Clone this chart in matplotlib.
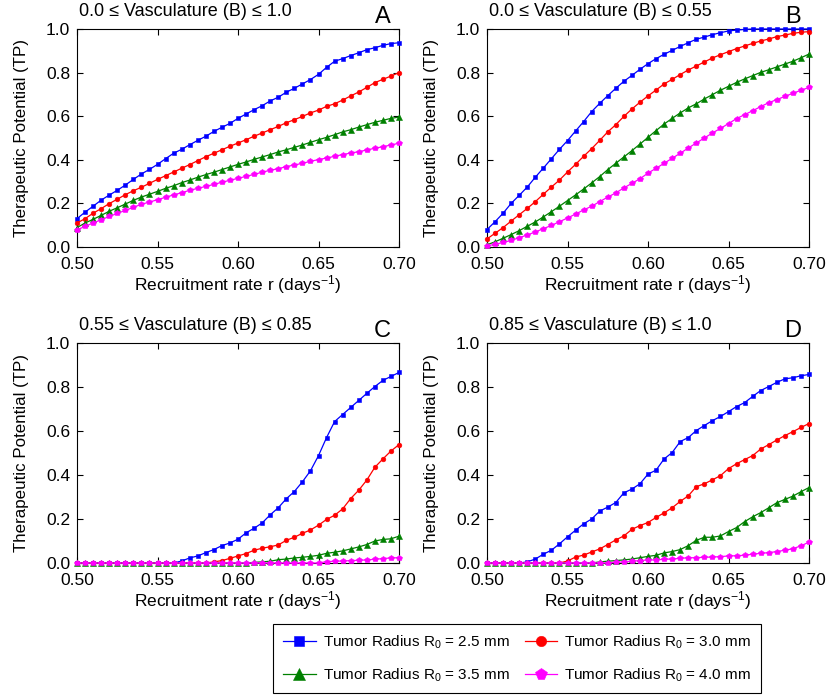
import matplotlib
matplotlib.use("Agg")
import matplotlib.pyplot as plt
import numpy as np

plt.rcParams['font.family'] = ['Liberation Sans', 'DejaVu Sans']
plt.rcParams['mathtext.fontset'] = 'custom'
plt.rcParams['mathtext.rm'] = 'Liberation Sans'
plt.rcParams['mathtext.it'] = 'Liberation Sans:italic'

# recruitment rate r (days^-1), 0.50..0.70 step 0.005
r = [0.500, 0.505, 0.510, 0.515, 0.520, 0.525, 0.530, 0.535, 0.540, 0.545,
     0.550, 0.555, 0.560, 0.565, 0.570, 0.575, 0.580, 0.585, 0.590, 0.595,
     0.600, 0.605, 0.610, 0.615, 0.620, 0.625, 0.630, 0.635, 0.640, 0.645,
     0.650, 0.655, 0.660, 0.665, 0.670, 0.675, 0.680, 0.685, 0.690, 0.695, 0.700]

series_labels = ["Tumor Radius $\\mathregular{R_0}$ = 2.5 mm",
                 "Tumor Radius $\\mathregular{R_0}$ = 3.0 mm",
                 "Tumor Radius $\\mathregular{R_0}$ = 3.5 mm",
                 "Tumor Radius $\\mathregular{R_0}$ = 4.0 mm"]

panel_titles = ["0.0 \u2264 Vasculature (B) \u2264 1.0",
                "0.0 \u2264 Vasculature (B) \u2264 0.55",
                "0.55 \u2264 Vasculature (B) \u2264 0.85",
                "0.85 \u2264 Vasculature (B) \u2264 1.0"]
panel_letters = ["A", "B", "C", "D"]

# Panel A
A_25 = [0.13, 0.16, 0.187, 0.215, 0.238, 0.26, 0.284, 0.31, 0.335, 0.356, 0.379, 0.405, 0.43, 0.448,
        0.469, 0.489, 0.508, 0.53, 0.549, 0.567, 0.59, 0.61, 0.63, 0.648, 0.67, 0.687, 0.71, 0.728,
        0.748, 0.768, 0.792, 0.824, 0.852, 0.864, 0.878, 0.891, 0.905, 0.914, 0.925, 0.933, 0.937]
A_30 = [0.11, 0.13, 0.155, 0.176, 0.199, 0.219, 0.24, 0.258, 0.274, 0.292, 0.31, 0.327, 0.344, 0.361,
        0.378, 0.396, 0.414, 0.43, 0.446, 0.462, 0.477, 0.492, 0.508, 0.523, 0.538, 0.553, 0.57, 0.584,
        0.599, 0.615, 0.628, 0.645, 0.657, 0.674, 0.693, 0.711, 0.732, 0.754, 0.769, 0.784, 0.80]
A_35 = [0.089, 0.11, 0.127, 0.145, 0.164, 0.18, 0.197, 0.214, 0.229, 0.242, 0.255, 0.269, 0.281, 0.295,
        0.307, 0.32, 0.332, 0.343, 0.355, 0.367, 0.379, 0.39, 0.402, 0.413, 0.424, 0.436, 0.446, 0.457,
        0.468, 0.48, 0.492, 0.503, 0.515, 0.528, 0.538, 0.55, 0.561, 0.572, 0.581, 0.59, 0.596]
A_40 = [0.078, 0.095, 0.11, 0.125, 0.14, 0.154, 0.168, 0.182, 0.196, 0.206, 0.217, 0.228, 0.239, 0.249,
        0.26, 0.269, 0.278, 0.287, 0.297, 0.306, 0.315, 0.324, 0.333, 0.343, 0.352, 0.359, 0.369, 0.376,
        0.384, 0.393, 0.401, 0.408, 0.416, 0.424, 0.431, 0.437, 0.445, 0.453, 0.46, 0.468, 0.476]

# Panel B
B_25 = [0.08, 0.116, 0.155, 0.2, 0.237, 0.275, 0.32, 0.362, 0.405, 0.448, 0.488, 0.532, 0.575, 0.621,
        0.659, 0.694, 0.728, 0.76, 0.787, 0.815, 0.841, 0.864, 0.884, 0.902, 0.92, 0.937, 0.953, 0.963,
        0.974, 0.983, 0.991, 0.995, 0.998, 1.0, 1.0, 1.0, 1.0, 1.0, 1.0, 1.0, 1.0]
B_30 = [0.037, 0.063, 0.089, 0.119, 0.148, 0.177, 0.208, 0.242, 0.275, 0.307, 0.344, 0.379, 0.416, 0.451,
        0.489, 0.528, 0.561, 0.599, 0.633, 0.664, 0.693, 0.72, 0.748, 0.769, 0.791, 0.812, 0.83, 0.849,
        0.867, 0.882, 0.896, 0.91, 0.922, 0.934, 0.945, 0.954, 0.965, 0.972, 0.98, 0.985, 0.988]
B_35 = [0.01, 0.024, 0.04, 0.057, 0.075, 0.095, 0.115, 0.138, 0.162, 0.187, 0.213, 0.239, 0.266, 0.294,
        0.323, 0.355, 0.384, 0.413, 0.442, 0.472, 0.503, 0.534, 0.564, 0.59, 0.615, 0.638, 0.657, 0.679,
        0.699, 0.719, 0.737, 0.755, 0.771, 0.786, 0.801, 0.813, 0.826, 0.839, 0.852, 0.868, 0.885]
B_40 = [0.006, 0.012, 0.021, 0.03, 0.043, 0.055, 0.069, 0.084, 0.099, 0.116, 0.133, 0.151, 0.17, 0.187,
        0.208, 0.229, 0.248, 0.271, 0.292, 0.313, 0.339, 0.361, 0.384, 0.407, 0.43, 0.454, 0.477, 0.5,
        0.523, 0.544, 0.566, 0.589, 0.607, 0.625, 0.644, 0.662, 0.676, 0.691, 0.705, 0.719, 0.732]

# Panel C
C_25 = [0.0, 0.0, 0.0, 0.0, 0.0, 0.0, 0.0, 0.0, 0.0, 0.0, 0.0, 0.0, 0.0,
        0.009, 0.023, 0.032, 0.047, 0.061, 0.079, 0.091, 0.108, 0.137, 0.158, 0.182, 0.219, 0.251,
        0.292, 0.325, 0.369, 0.419, 0.488, 0.57, 0.643, 0.675, 0.707, 0.739, 0.771, 0.802, 0.83,
        0.848, 0.866]
C_30 = [0.0, 0.0, 0.0, 0.0, 0.0, 0.0, 0.0, 0.0, 0.0, 0.0, 0.0, 0.0, 0.0, 0.0, 0.0, 0.0, 0.0,
        0.005, 0.011, 0.021, 0.032, 0.043, 0.058, 0.067, 0.074, 0.082, 0.103, 0.117, 0.135, 0.15,
        0.172, 0.198, 0.217, 0.246, 0.293, 0.331, 0.377, 0.435, 0.473, 0.509, 0.538]
C_35 = [0.0, 0.0, 0.0, 0.0, 0.0, 0.0, 0.0, 0.0, 0.0, 0.0, 0.0, 0.0, 0.0, 0.0, 0.0, 0.0, 0.0,
        0.0, 0.0, 0.0, 0.0, 0.0,
        0.003, 0.005, 0.008, 0.015, 0.018, 0.023, 0.026, 0.03, 0.035, 0.044, 0.049, 0.055, 0.064,
        0.073, 0.084, 0.10, 0.107, 0.11, 0.122]
C_40 = [0.0, 0.0, 0.0, 0.0, 0.0, 0.0, 0.0, 0.0, 0.0, 0.0, 0.0, 0.0, 0.0, 0.0, 0.0, 0.0, 0.0,
        0.0, 0.0, 0.0, 0.0, 0.0, 0.0, 0.0, 0.0, 0.0, 0.0, 0.0, 0.0, 0.0, 0.0,
        0.006, 0.008, 0.009, 0.011, 0.012, 0.014, 0.017, 0.02, 0.023, 0.024]

# Panel D
D_25 = [0.0, 0.0, 0.0, 0.0, 0.0,
        0.005, 0.018, 0.04, 0.058, 0.087, 0.119, 0.149, 0.178, 0.2, 0.236, 0.254, 0.275, 0.319,
        0.336, 0.36, 0.404, 0.422, 0.473, 0.502, 0.552, 0.57, 0.602, 0.625, 0.647, 0.666, 0.688,
        0.711, 0.729, 0.757, 0.784, 0.802, 0.821, 0.837, 0.842, 0.851, 0.857]
D_30 = [0.0, 0.0, 0.0, 0.0, 0.0, 0.0, 0.0, 0.0, 0.0, 0.0,
        0.009, 0.027, 0.036, 0.05, 0.064, 0.084, 0.105, 0.123, 0.153, 0.17, 0.184, 0.207, 0.228,
        0.251, 0.28, 0.305, 0.347, 0.36, 0.378, 0.397, 0.429, 0.451, 0.47, 0.488, 0.518, 0.538,
        0.559, 0.579, 0.597, 0.616, 0.634]
D_35 = [0.0, 0.0, 0.0, 0.0, 0.0, 0.0, 0.0, 0.0, 0.0, 0.0, 0.0, 0.0, 0.0, 0.0,
        0.005, 0.008, 0.011, 0.014, 0.018, 0.024, 0.03, 0.035, 0.046, 0.052, 0.061, 0.079, 0.103,
        0.117, 0.117, 0.123, 0.143, 0.161, 0.188, 0.21, 0.229, 0.251, 0.274, 0.289, 0.304, 0.324,
        0.343]
D_40 = [0.0, 0.0, 0.0, 0.0, 0.0, 0.0, 0.0, 0.0, 0.0, 0.0, 0.0, 0.0, 0.0, 0.0, 0.0, 0.0,
        0.003, 0.005, 0.008, 0.011, 0.014, 0.014, 0.017, 0.018, 0.021, 0.024, 0.024, 0.026, 0.027,
        0.029, 0.032, 0.033, 0.035, 0.04, 0.044, 0.047, 0.052, 0.058, 0.065, 0.078, 0.095]

panels = [[A_25, A_30, A_35, A_40],
          [B_25, B_30, B_35, B_40],
          [C_25, C_30, C_35, C_40],
          [D_25, D_30, D_35, D_40]]

x_ticks = [0.50, 0.55, 0.60, 0.65, 0.70]
y_ticks = [0.0, 0.2, 0.4, 0.6, 0.8, 1.0]

colors = ['#0000ff', '#ff0000', '#008000', '#ff00ff']
markers = ['s', 'o', '^', 'p']
msizes = [3.2, 3.4, 3.8, 3.8]

fig = plt.figure(figsize=(8.3, 6.96), dpi=100)
W, H = 830.0, 696.0
rects = [(77, 29, 399, 247), (487, 29, 809, 247),
         (77, 343, 399, 563), (487, 343, 809, 563)]

handles = []
for i, (l, t, rr, b) in enumerate(rects):
    ax = fig.add_axes([l / W, 1 - b / H, (rr - l) / W, (b - t) / H])
    for j, ys in enumerate(panels[i]):
        h, = ax.plot(r, ys, color=colors[j], marker=markers[j], markersize=msizes[j],
                     linewidth=0.9, markeredgewidth=0.4, clip_on=False, zorder=3)
        if i == 0:
            handles.append(h)
    ax.set_xlim(0.50, 0.70)
    ax.set_ylim(0.0, 1.0)
    ax.set_xticks(x_ticks)
    ax.set_xticklabels(["%.2f" % v for v in x_ticks])
    ax.set_yticks(y_ticks)
    ax.set_yticklabels(["%.1f" % v for v in y_ticks])
    ax.tick_params(direction='in', top=True, right=True, labelsize=12.5, length=4, width=0.8)
    ax.tick_params(axis='x', pad=7)
    ax.tick_params(axis='y', pad=5)
    for s in ax.spines.values():
        s.set_linewidth(0.8)
    ax.set_xlabel("Recruitment rate r (days$^{\\mathregular{-1}}$)", fontsize=12.5, labelpad=1)
    ax.set_ylabel("Therapeutic Potential (TP)", fontsize=12.2, labelpad=12)
    ax.text(0.005, 1.04, panel_titles[i], transform=ax.transAxes, fontsize=13,
            ha='left', va='bottom')
    ax.text(0.975, 1.005, panel_letters[i], transform=ax.transAxes, fontsize=17,
            ha='right', va='bottom')

# legend filled row-wise like the reference: (2.5, 3.0) / (3.5, 4.0)
order = [0, 2, 1, 3]
leg = fig.legend([handles[k] for k in order], [series_labels[k] for k in order],
                 loc='center', ncol=2,
                 bbox_to_anchor=(517 / W, 1 - 658.5 / H), fontsize=11,
                 frameon=True, fancybox=False, edgecolor='black', framealpha=1,
                 handlelength=2.15, columnspacing=1.0, labelspacing=1.0,
                 borderpad=0.65, markerscale=2.2, handletextpad=0.45)
leg.get_frame().set_linewidth(0.8)

fig.savefig("out.png", dpi=100)
